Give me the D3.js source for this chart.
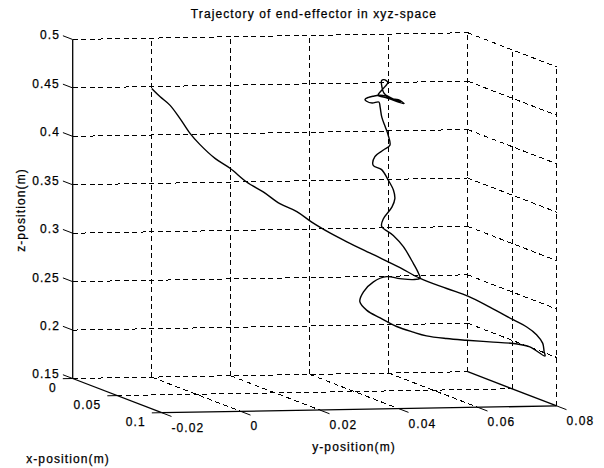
<!DOCTYPE html>
<html>
<head>
<meta charset="utf-8">
<script src="https://cdn.jsdelivr.net/npm/d3@7"></script>
<style>
  html, body { margin: 0; padding: 0; background: #fff; }
  svg text { font-family: "Liberation Sans", Arial, Helvetica, sans-serif; font-size: 12px; letter-spacing: 1.1px; fill: #000; stroke: #000; stroke-width: 0.25px; }
</style>
</head>
<body>
<svg id="chart" width="604" height="468"></svg>
<script>
// Axis limits and ticks
const xDomain = [0, 0.1];
const yDomain = [-0.02, 0.08];
const zDomain = [0.15, 0.5];
const xTicks = [0, 0.05, 0.1];
const yTicks = [-0.02, 0, 0.02, 0.04, 0.06, 0.08];
const zTicks = [0.15, 0.2, 0.25, 0.3, 0.35, 0.4, 0.45, 0.5];
const xTickLabels = ["0", "0.05", "0.1"];
const yTickLabels = ["-0.02", "0", "0.02", "0.04", "0.06", "0.08"];
const zTickLabels = ["0.15", "0.2", "0.25", "0.3", "0.35", "0.4", "0.45", "0.5"];

// End-effector trajectory (m)
const pathX = [
  0.000, 0.002, 0.004, 0.007, 0.010, 0.013, 0.017, 0.021, 0.025, 0.029, 0.033, 0.037, 0.040, 0.044,
  0.048, 0.053, 0.058, 0.062, 0.067, 0.071, 0.075, 0.079, 0.081, 0.084, 0.087, 0.089, 0.090,
  0.088, 0.086, 0.083, 0.080, 0.077, 0.074, 0.071, 0.068, 0.065, 0.062, 0.059, 0.056, 0.053, 0.050,
  0.048, 0.046, 0.045, 0.044, 0.042, 0.040, 0.038, 0.036, 0.034, 0.032, 0.030, 0.028, 0.026, 0.024,
  0.022, 0.020, 0.018, 0.016, 0.014, 0.012, 0.010, 0.009, 0.008,
  0.008, 0.008, 0.008, 0.008, 0.008, 0.008, 0.008, 0.008, 0.008, 0.008, 0.008, 0.008, 0.008,
  0.008, 0.008, 0.008, 0.008, 0.008, 0.008, 0.008, 0.008, 0.008, 0.008, 0.008, 0.008
];
const pathY = [
  0.0000, 0.0017, 0.0037, 0.0056, 0.0074, 0.0093, 0.0122, 0.0151, 0.0184, 0.0217, 0.0250, 0.0284, 0.0315, 0.0352,
  0.0386, 0.0442, 0.0498, 0.0540, 0.0596, 0.0642, 0.0687, 0.0737, 0.0767, 0.0785, 0.0794, 0.0793, 0.0793,
  0.0759, 0.0722, 0.0669, 0.0617, 0.0573, 0.0529, 0.0502, 0.0467, 0.0432, 0.0405, 0.0394, 0.0410, 0.0442, 0.0482,
  0.0520, 0.0558, 0.0578, 0.0576, 0.0568, 0.0547, 0.0526, 0.0501, 0.0510, 0.0536, 0.0548, 0.0549, 0.0540, 0.0528,
  0.0511, 0.0520, 0.0546, 0.0567, 0.0567, 0.0564, 0.0560, 0.0558, 0.0557,
  0.0540, 0.0526, 0.0522, 0.0531, 0.0542, 0.0557, 0.0575, 0.0590, 0.0606, 0.0621, 0.0603, 0.0583, 0.0570,
  0.0565, 0.0564, 0.0570, 0.0580, 0.0573, 0.0562, 0.0555, 0.0578, 0.0598, 0.0613, 0.0593, 0.0575
];
const pathZ = [
  0.448, 0.440, 0.432, 0.419, 0.405, 0.394, 0.381, 0.372, 0.359, 0.350, 0.339, 0.332, 0.322, 0.312,
  0.304, 0.292, 0.280, 0.270, 0.261, 0.254, 0.244, 0.232, 0.225, 0.218, 0.210, 0.202, 0.198,
  0.207, 0.210, 0.211, 0.212, 0.213, 0.215, 0.218, 0.223, 0.231, 0.238, 0.246, 0.255, 0.264, 0.268,
  0.265, 0.263, 0.264, 0.269, 0.278, 0.295, 0.306, 0.315, 0.322, 0.333, 0.341, 0.349, 0.359, 0.369,
  0.373, 0.381, 0.387, 0.391, 0.401, 0.409, 0.418, 0.428, 0.433,
  0.432, 0.434, 0.436, 0.438, 0.439, 0.440, 0.439, 0.436, 0.435, 0.431, 0.433, 0.437, 0.442,
  0.448, 0.455, 0.456, 0.453, 0.449, 0.444, 0.440, 0.437, 0.434, 0.433, 0.436, 0.440
];

const svg = d3.select("#chart");

// Normalised axis scales
const xs = d3.scaleLinear().domain(xDomain).range([0, 1]);
const ys = d3.scaleLinear().domain(yDomain).range([0, 1]);
const zs = d3.scaleLinear().domain(zDomain).range([0, 1]);

// Orthographic view: screen position of the box origin and the three box edges
const origin = [72.7, 378.5];
const ex = [89, 34.2];
const ey = [395, -6.8];
const ez = [0, -339];

function proj(x, y, z) {
  const u = xs(x), v = ys(y), w = zs(z);
  return [origin[0] + u * ex[0] + v * ey[0] + w * ez[0],
          origin[1] + u * ex[1] + v * ey[1] + w * ez[1]];
}

const gGrid = svg.append("g").attr("fill", "none").attr("stroke", "#000")
  .attr("stroke-width", 1).attr("stroke-dasharray", "5,3.5")
  .attr("shape-rendering", "crispEdges");

function seg(g, a, b) {
  const p = proj(...a), q = proj(...b);
  g.append("line").attr("x1", p[0]).attr("y1", p[1]).attr("x2", q[0]).attr("y2", q[1]);
}

const [x0, x1] = xDomain, [y0, y1] = yDomain, [z0, z1] = zDomain;

// Back wall (x = 0)
yTicks.forEach(y => { if (y !== y0) seg(gGrid, [x0, y, z0], [x0, y, z1]); });
zTicks.forEach(z => seg(gGrid, [x0, y0, z], [x0, y1, z]));
// Right wall (y = y max)
xTicks.forEach(x => { if (x !== x0) seg(gGrid, [x, y1, z0], [x, y1, z1]); });
zTicks.forEach(z => { if (z !== z0) seg(gGrid, [x0, y1, z], [x1, y1, z]); });
// Floor (z = z min)
yTicks.forEach(y => { if (y !== y0 && y !== y1) seg(gGrid, [x0, y, z0], [x1, y, z0]); });
xTicks.forEach(x => { if (x !== x0 && x !== x1) seg(gGrid, [x, y0, z0], [x, y1, z0]); });

// Solid axis lines
const gAxis = svg.append("g").attr("fill", "none").attr("stroke", "#000").attr("stroke-width", 1.3);
seg(gAxis, [x0, y0, z0], [x0, y0, z1]);
seg(gAxis, [x0, y0, z0], [x1, y0, z0]);
seg(gAxis, [x1, y0, z0], [x1, y1, z0]);
seg(gAxis, [x0, y1, z0], [x1, y1, z0]);

// Tick marks
const gTick = svg.append("g").attr("stroke", "#000").attr("stroke-width", 1);
zTicks.forEach(z => seg(gTick, [x0, y0, z], [x0 - 0.011, y0, z]));
xTicks.forEach(x => seg(gTick, [x, y0, z0], [x, y0 - 0.0025, z0]));
yTicks.forEach(y => seg(gTick, [x1, y, z0], [x1 + 0.011, y, z0]));

// Tick labels
const gLab = svg.append("g");
zTicks.forEach((z, i) => {
  const p = proj(x0 - 0.011, y0, z);
  gLab.append("text").attr("x", p[0] - 3).attr("y", p[1] - 0.5).attr("dy", "0.35em")
    .attr("text-anchor", "end").text(zTickLabels[i]);
});
xTicks.forEach((x, i) => {
  const p = proj(x, y0 - 0.0025, z0);
  gLab.append("text").attr("x", p[0] - 6).attr("y", p[1] + 9).attr("dy", "0.35em")
    .attr("text-anchor", "end").text(xTickLabels[i]);
});
yTicks.forEach((y, i) => {
  const p = proj(x1 + 0.011, y, z0);
  gLab.append("text").attr("x", p[0]).attr("y", p[1] + 11).attr("dy", "0.35em")
    .attr("text-anchor", "start").text(yTickLabels[i]);
});

// Axis titles and chart title
svg.append("text").attr("x", 68).attr("y", 459).attr("dy", "0.35em")
  .attr("text-anchor", "middle").text("x-position(m)");
svg.append("text").attr("x", 354).attr("y", 447).attr("dy", "0.35em")
  .attr("text-anchor", "middle").text("y-position(m)");
svg.append("text").attr("transform", "translate(21,210) rotate(-90)").attr("dy", "0.35em")
  .attr("text-anchor", "middle").text("z-position(m)");
svg.append("text").attr("x", 314).attr("y", 14).attr("dy", "0.35em")
  .attr("text-anchor", "middle").text("Trajectory of end-effector in xyz-space");

// Trajectory
const pts = pathX.map((x, i) => proj(x, pathY[i], pathZ[i]));
svg.append("path")
  .attr("d", d3.line().curve(d3.curveCatmullRom.alpha(0.5))(pts))
  .attr("fill", "none").attr("stroke", "#000").attr("stroke-width", 1.4)
  .attr("stroke-linejoin", "round");
</script>
</body>
</html>
